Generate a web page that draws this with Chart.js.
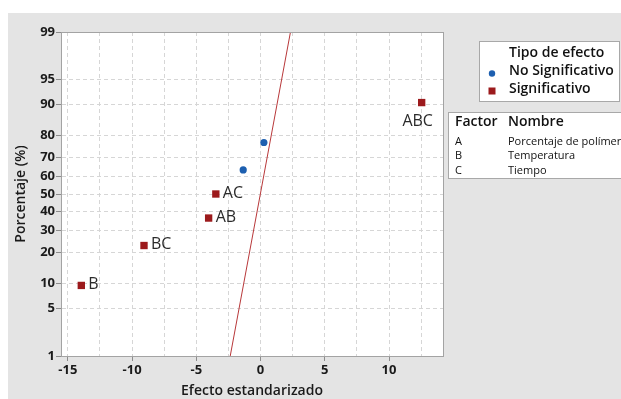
<!DOCTYPE html>
<html>
<head>
<meta charset="utf-8">
<script src="https://cdn.jsdelivr.net/npm/chart.js@4"></script>
<style>
  body { margin: 0; background: #fff; }
  canvas { display: block; }
</style>
</head>
<body>
<canvas id="chart" width="621" height="399"></canvas>
<script>
// significant effects (red squares)
const sigNames = ['B', 'BC', 'AB', 'AC', 'ABC'];
const sigEffect = [-13.95, -9.07, -4.04, -3.48, 12.54];
const sigPct = [9.46, 22.97, 36.49, 50.0, 90.54];

// non significant effects (blue dots)
const nsEffect = [-1.35, 0.26];
const nsPct = [63.51, 77.03];

// reference line end points
const lineEffect = [-2.36, 2.33];
const linePct = [1, 99];

// axes
const yTickPct = [1, 5, 10, 20, 30, 40, 50, 60, 70, 80, 90, 95, 99];
const xTicks = [-15, -12.5, -10, -7.5, -5, -2.5, 0, 2.5, 5, 7.5, 10, 12.5];
const xMin = -15.53, xMax = 14.2;

const factorCodes = ['A', 'B', 'C'];
const factorNames = ['Porcentaje de polímero', 'Temperatura', 'Tiempo'];

const RED = '#9c1a1c';
const BLUE = '#1d5fb0';
const FONT = "'Open Sans', 'Noto Sans', sans-serif";

// inverse normal cdf (Acklam)
function probit(p) {
  const a = [-3.969683028665376e+01, 2.209460984245205e+02, -2.759285104469687e+02, 1.383577518672690e+02, -3.066479806614716e+01, 2.506628277459239e+00];
  const b = [-5.447609879822406e+01, 1.615858368580409e+02, -1.556989798598866e+02, 6.680131188771972e+01, -1.328068155288572e+01];
  const c = [-7.784894002430293e-03, -3.223964580411365e-01, -2.400758277161838e+00, -2.549732539343734e+00, 4.374664141464968e+00, 2.938163982698783e+00];
  const d = [7.784695709041462e-03, 3.224671290700398e-01, 2.445134137142996e+00, 3.754408661907416e+00];
  const pl = 0.02425;
  if (p < pl) {
    const q = Math.sqrt(-2 * Math.log(p));
    return (((((c[0]*q+c[1])*q+c[2])*q+c[3])*q+c[4])*q+c[5]) / ((((d[0]*q+d[1])*q+d[2])*q+d[3])*q+1);
  }
  if (p > 1 - pl) {
    const q = Math.sqrt(-2 * Math.log(1 - p));
    return -(((((c[0]*q+c[1])*q+c[2])*q+c[3])*q+c[4])*q+c[5]) / ((((d[0]*q+d[1])*q+d[2])*q+d[3])*q+1);
  }
  const q = p - 0.5, r = q * q;
  return (((((a[0]*r+a[1])*r+a[2])*r+a[3])*r+a[4])*r+a[5])*q / (((((b[0]*r+b[1])*r+b[2])*r+b[3])*r+b[4])*r+1);
}

const toPoints = (xs, ps) => xs.map((x, i) => ({ x: x, y: probit(ps[i] / 100) }));

const frame = {
  id: 'frame',
  beforeDraw(chart) {
    const { ctx, chartArea: a } = chart;
    ctx.save();
    ctx.fillStyle = '#fff';
    ctx.fillRect(0, 0, chart.width, chart.height);
    ctx.fillStyle = '#e4e4e4';
    ctx.fillRect(8, 13, chart.width - 8, chart.height - 13);
    ctx.fillStyle = '#fff';
    ctx.fillRect(a.left, a.top, a.right - a.left, a.bottom - a.top);
    ctx.restore();
  },
  afterDraw(chart) {
    const { ctx, chartArea: a } = chart;
    ctx.save();
    ctx.strokeStyle = '#a3a3a3';
    ctx.lineWidth = 1;
    ctx.strokeRect(a.left + 0.5, a.top + 0.5, a.right - a.left, a.bottom - a.top);

    // point labels
    const meta = chart.getDatasetMeta(1);
    ctx.fillStyle = '#2b2b2b';
    ctx.font = '16px ' + FONT;
    ctx.textBaseline = 'middle';
    sigNames.forEach((name, i) => {
      const el = meta.data[i];
      if (name === 'ABC') {
        ctx.textAlign = 'center';
        ctx.fillText(name, el.x - 4, el.y + 19);
      } else {
        ctx.textAlign = 'left';
        ctx.fillText(name, el.x + 7, el.y - 1);
      }
    });

    // legend: Tipo de efecto
    ctx.fillStyle = '#fff';
    ctx.fillRect(479, 41, 141, 61);
    ctx.strokeStyle = '#a8a8a8';
    ctx.strokeRect(479.5, 41.5, 140, 60);
    ctx.fillStyle = '#111';
    ctx.textAlign = 'left';
    ctx.font = '600 14px ' + FONT;
    ctx.fillText('Tipo de efecto', 509, 53);
    ctx.fillText('No Significativo', 509, 71);
    ctx.fillText('Significativo', 509, 89);
    ctx.fillStyle = BLUE;
    ctx.beginPath();
    ctx.arc(492, 73.5, 3.2, 0, Math.PI * 2);
    ctx.fill();
    ctx.fillStyle = RED;
    ctx.fillRect(488.5, 87.5, 7, 7);

    // legend: Factor / Nombre
    ctx.fillStyle = '#fff';
    ctx.fillRect(448, 112, 180, 66);
    ctx.strokeStyle = '#a8a8a8';
    ctx.strokeRect(448.5, 112.5, 180, 66);
    ctx.fillStyle = '#111';
    ctx.font = '600 14px ' + FONT;
    ctx.fillText('Factor', 455, 122);
    ctx.fillText('Nombre', 508, 122);
    ctx.font = '11px ' + FONT;
    factorCodes.forEach((code, i) => {
      ctx.fillText(code, 455, 141.5 + i * 14.7);
      ctx.fillText(factorNames[i], 508, 141.5 + i * 14.7);
    });
    ctx.restore();
  }
};

new Chart(document.getElementById('chart'), {
  type: 'scatter',
  data: {
    datasets: [
      {
        type: 'line',
        data: toPoints(lineEffect, linePct),
        borderColor: '#b8383a',
        borderWidth: 1,
        pointRadius: 0,
        fill: false,
        order: 3
      },
      {
        data: toPoints(sigEffect, sigPct),
        pointStyle: 'rect',
        pointRadius: 5.2,
        backgroundColor: RED,
        borderColor: RED,
        borderWidth: 0,
        order: 1
      },
      {
        data: toPoints(nsEffect, nsPct),
        pointStyle: 'circle',
        pointRadius: 3.6,
        backgroundColor: BLUE,
        borderColor: BLUE,
        borderWidth: 0,
        order: 2
      }
    ]
  },
  options: {
    responsive: false,
    animation: false,
    layout: { padding: { left: 8, right: 178, top: 32, bottom: 0 } },
    plugins: { legend: { display: false }, tooltip: { enabled: false } },
    scales: {
      x: {
        type: 'linear',
        min: xMin,
        max: xMax,
        afterBuildTicks: s => { s.ticks = xTicks.map(v => ({ value: v })); },
        afterFit: s => { s.height = 43; },
        ticks: {
          padding: 1,
          color: '#1a1a1a',
          font: { family: FONT, size: 13, weight: 'bold' },
          callback: v => (v % 5 === 0 ? String(v) : '')
        },
        grid: {
          color: '#d6d6d6',
          tickLength: 5,
          tickColor: c => (c.tick && c.tick.value % 5 === 0 ? '#8c8c8c' : 'rgba(0,0,0,0)'),
          tickBorderDash: []
        },
        border: { color: '#a3a3a3', dash: [4, 3] },
        title: {
          display: true,
          text: 'Efecto estandarizado',
          color: '#1a1a1a',
          padding: { top: 3, bottom: 0 },
          font: { family: FONT, size: 14, weight: '600' }
        }
      },
      y: {
        type: 'linear',
        min: probit(0.01),
        max: probit(0.99),
        afterBuildTicks: s => { s.ticks = yTickPct.map(p => ({ value: probit(p / 100) })); },
        afterFit: s => { s.width = 53; },
        ticks: {
          padding: 1,
          color: '#1a1a1a',
          font: { family: FONT, size: 13, weight: 'bold' },
          callback: (v, i) => String(yTickPct[i])
        },
        grid: {
          color: '#d6d6d6',
          tickLength: 5,
          tickColor: '#8c8c8c',
          tickBorderDash: []
        },
        border: { color: '#a3a3a3', dash: [4, 3] },
        title: {
          display: true,
          text: 'Porcentaje (%)',
          color: '#1a1a1a',
          padding: { top: 5, bottom: 0 },
          font: { family: FONT, size: 14, weight: '600' }
        }
      }
    }
  },
  plugins: [frame]
});
</script>
</body>
</html>
